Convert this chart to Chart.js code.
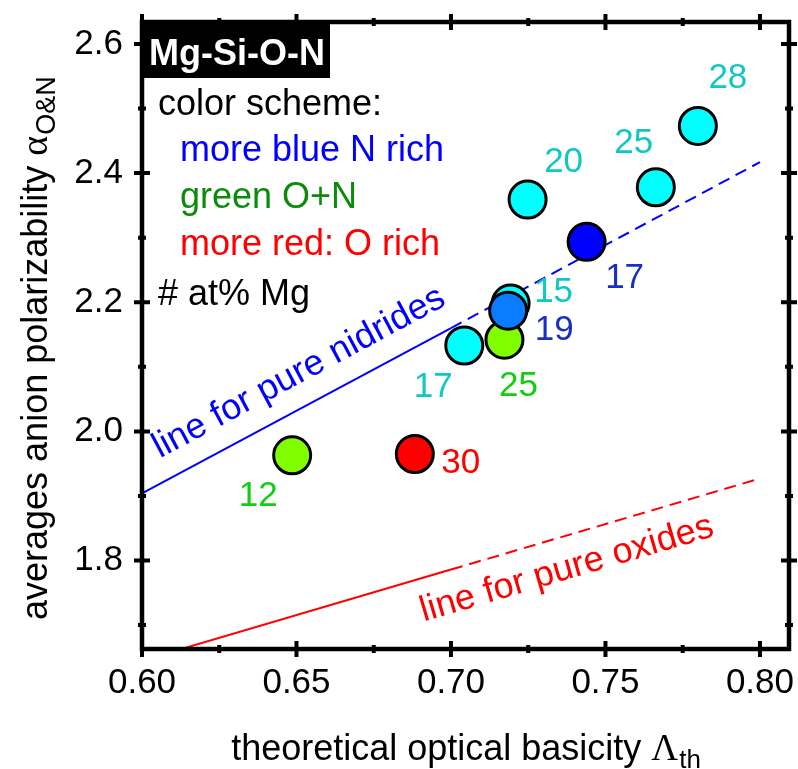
<!DOCTYPE html>
<html>
<head>
<meta charset="utf-8">
<script src="https://cdn.jsdelivr.net/npm/chart.js@4.4.1/dist/chart.umd.min.js"></script>
<style>
  html, body { margin: 0; padding: 0; background: #fff; }
  #wrap { width: 798px; height: 769px; }
</style>
</head>
<body>
<div id="wrap"><canvas id="chart" width="798" height="769"></canvas></div>
<script>
// samples, listed in drawing order (later ones sit on top)
const basicity    = [0.7799, 0.7663, 0.7248, 0.7439, 0.6486, 0.6883, 0.7043, 0.7173, 0.7193, 0.7185];
const polarizab   = [2.473, 2.378, 2.359, 2.2935, 1.963, 1.965, 2.133, 2.142, 2.198, 2.187];
const mgPercent   = ['28', '25', '20', '17', '12', '30', '17', '25', '15', '19'];

// reference lines (solid up to 0.70, dashed after)
const lineX    = [0.60, 0.70, 0.80];
const nitrideY = [1.904, 2.160, 2.417];
const oxideY   = [1.645, 1.786, 1.927];

// axes
const xTicks      = [0.60, 0.65, 0.70, 0.75, 0.80];
const xTickLabels = ['0.60', '0.65', '0.70', '0.75', '0.80'];
const xMinor      = [0.625, 0.675, 0.725, 0.775];
const yTicks      = [1.8, 2.0, 2.2, 2.4, 2.6];
const yTickLabels = ['1.8', '2.0', '2.2', '2.4', '2.6'];
const yMinor      = [1.7, 1.9, 2.1, 2.3, 2.5];

// styles
const pointColors = ['#00ffff', '#00ffff', '#00ffff', '#0000ff', '#80ff00', '#ff0000', '#00ffff', '#80ff00', '#00ffff', '#0a7cff'];
const labelColors = ['#12c6c6', '#12c6c6', '#12c6c6', '#1a2fc8', '#10cf10', '#ff0000', '#12c6c6', '#10cf10', '#12c6c6', '#1a2fc8'];
const labelOffsets = [[30, -48], [-22, -44], [36, -37], [38, 36], [-34, 41], [46, 9], [-31, 42], [14, 47], [43, -11], [46, 20]];

const FONT = '"Liberation Sans", Arial, sans-serif';
const SERIF = '"Liberation Serif", "Times New Roman", serif';

// keep the plot box where the reference has it
const noPad = s => { s.paddingTop = 0; s.paddingBottom = 0; s.paddingLeft = 0; s.paddingRight = 0; };

const decor = {
    id: 'decor',
    afterDraw(chart) {
        const { ctx, chartArea: a, scales } = chart;
        const x = scales.x, y = scales.y;
        ctx.save();

        // frame
        ctx.strokeStyle = '#000';
        ctx.lineWidth = 4.5;
        ctx.strokeRect(a.left, a.top, a.right - a.left, a.bottom - a.top);

        // ticks on all four sides, crossing the frame
        ctx.lineWidth = 4;
        ctx.beginPath();
        const vTick = (v, len) => {
            const px = x.getPixelForValue(v);
            ctx.moveTo(px, a.bottom - len); ctx.lineTo(px, a.bottom + len);
            ctx.moveTo(px, a.top - len); ctx.lineTo(px, a.top + len);
        };
        const hTick = (v, len) => {
            const py = y.getPixelForValue(v);
            ctx.moveTo(a.left - len, py); ctx.lineTo(a.left + len, py);
            ctx.moveTo(a.right - len, py); ctx.lineTo(a.right + len, py);
        };
        xTicks.forEach(v => vTick(v, 8));
        xMinor.forEach(v => vTick(v, 4));
        yTicks.forEach(v => hTick(v, 8));
        yMinor.forEach(v => hTick(v, 4));
        ctx.stroke();

        // title box
        ctx.fillStyle = '#000';
        ctx.fillRect(a.left, a.top, 188, 56);
        ctx.fillStyle = '#fff';
        ctx.font = 'bold 36px ' + FONT;
        ctx.textAlign = 'left';
        ctx.textBaseline = 'alphabetic';
        ctx.fillText('Mg-Si-O-N', a.left + 7, a.top + 43);

        // colour key
        ctx.font = '36px ' + FONT;
        ctx.fillStyle = '#000';
        ctx.fillText('color scheme:', 158, 115);
        ctx.fillStyle = '#0000ff';
        ctx.fillText('more blue N rich', 180, 161);
        ctx.fillStyle = '#0a8c0a';
        ctx.fillText('green O+N', 180, 208);
        ctx.fillStyle = '#ff0000';
        ctx.fillText('more red: O rich', 180, 255);
        ctx.fillStyle = '#000';
        ctx.fillText('# at% Mg', 158, 305);

        // point labels
        const pts = chart.getDatasetMeta(0).data;
        ctx.font = '35px ' + FONT;
        ctx.textAlign = 'center';
        ctx.textBaseline = 'middle';
        pts.forEach((p, i) => {
            ctx.fillStyle = labelColors[i];
            ctx.fillText(mgPercent[i], p.x + labelOffsets[i][0], p.y + labelOffsets[i][1]);
        });

        // labels along the reference lines
        const along = (text, color, xs, ys, ax, ay) => {
            const ang = Math.atan2(y.getPixelForValue(ys[2]) - y.getPixelForValue(ys[0]),
                                   x.getPixelForValue(xs[2]) - x.getPixelForValue(xs[0]));
            ctx.save();
            ctx.translate(x.getPixelForValue(ax), y.getPixelForValue(ay));
            ctx.rotate(ang);
            ctx.font = '36px ' + FONT;
            ctx.fillStyle = color;
            ctx.textAlign = 'left';
            ctx.textBaseline = 'alphabetic';
            ctx.fillText(text, 0, 0);
            ctx.restore();
        };
        along('line for pure nidrides', '#0000ff', lineX, nitrideY, 0.6058, 1.958);
        along('line for pure oxides', '#ff0000', lineX, oxideY, 0.6912, 1.7054);

        // x axis title with Λ_th
        ctx.fillStyle = '#000';
        ctx.textAlign = 'left';
        ctx.textBaseline = 'alphabetic';
        const t1 = 'theoretical optical basicity ';
        ctx.font = '36px ' + FONT;
        const w1 = ctx.measureText(t1).width;
        ctx.font = '37px ' + SERIF;
        const w2 = ctx.measureText('\u039B').width;
        ctx.font = '26px ' + FONT;
        const w3 = ctx.measureText('th').width;
        let sx = (a.left + a.right) / 2 - (w1 + w2 + w3) / 2;
        ctx.font = '36px ' + FONT;
        ctx.fillText(t1, sx, 760);
        ctx.font = '37px ' + SERIF;
        ctx.fillText('\u039B', sx + w1, 760);
        ctx.font = '26px ' + FONT;
        ctx.fillText('th', sx + w1 + w2 + 1, 768);

        // y axis title with α_O&N
        ctx.save();
        ctx.translate(47, 620);
        ctx.rotate(-Math.PI / 2);
        const s1 = 'averages anion polarizability ';
        ctx.font = '36px ' + FONT;
        ctx.fillText(s1, 0, 0);
        const u1 = ctx.measureText(s1).width;
        ctx.font = '38px ' + SERIF;
        ctx.fillText('\u03B1', u1, 0);
        const u2 = ctx.measureText('\u03B1').width;
        ctx.font = '27px ' + FONT;
        ctx.fillText('O&N', u1 + u2 + 1, 8);
        ctx.restore();

        ctx.restore();
    }
};

const ctx = document.getElementById('chart').getContext('2d');
new Chart(ctx, {
    type: 'scatter',
    data: {
        datasets: [
            {
                label: 'samples',
                data: basicity.map((v, i) => ({ x: v, y: polarizab[i] })),
                backgroundColor: pointColors,
                borderColor: '#000',
                borderWidth: 3,
                pointRadius: 18.5,
                pointHoverRadius: 18.5,
                order: 0
            },
            {
                type: 'line',
                label: 'pure nitrides',
                data: lineX.map((v, i) => ({ x: v, y: nitrideY[i] })),
                borderColor: '#0000ff',
                borderWidth: 2,
                pointRadius: 0,
                fill: false,
                segment: { borderDash: c => c.p0DataIndex >= 1 ? [12, 7] : undefined },
                order: 1
            },
            {
                type: 'line',
                label: 'pure oxides',
                data: lineX.map((v, i) => ({ x: v, y: oxideY[i] })),
                borderColor: '#ff0000',
                borderWidth: 2,
                pointRadius: 0,
                fill: false,
                segment: { borderDash: c => c.p0DataIndex >= 1 ? [12, 7] : undefined },
                order: 1
            }
        ]
    },
    options: {
        responsive: false,
        animation: false,
        layout: { autoPadding: false, padding: { top: 22, right: 9, left: 0, bottom: 0 } },
        scales: {
            x: {
                type: 'linear',
                min: 0.60,
                max: 0.8094,
                afterFit: s => { s.height = 120; noPad(s); },
                afterBuildTicks: s => { s.ticks = xTicks.map(v => ({ value: v })); },
                ticks: {
                    padding: 13,
                    color: '#000',
                    font: { family: FONT, size: 35 },
                    maxRotation: 0,
                    callback: (v) => xTickLabels[xTicks.findIndex(t => Math.abs(t - v) < 1e-6)]
                },
                grid: { display: false, drawTicks: false },
                border: { display: false }
            },
            y: {
                type: 'linear',
                min: 1.663,
                max: 2.634,
                afterFit: s => { s.width = 142; noPad(s); },
                afterBuildTicks: s => { s.ticks = yTicks.map(v => ({ value: v })); },
                ticks: {
                    padding: 19,
                    color: '#000',
                    font: { family: FONT, size: 35 },
                    callback: (v) => yTickLabels[yTicks.findIndex(t => Math.abs(t - v) < 1e-6)]
                },
                grid: { display: false, drawTicks: false },
                border: { display: false }
            }
        },
        plugins: {
            legend: { display: false },
            tooltip: { enabled: false }
        }
    },
    plugins: [decor]
});
</script>
</body>
</html>
